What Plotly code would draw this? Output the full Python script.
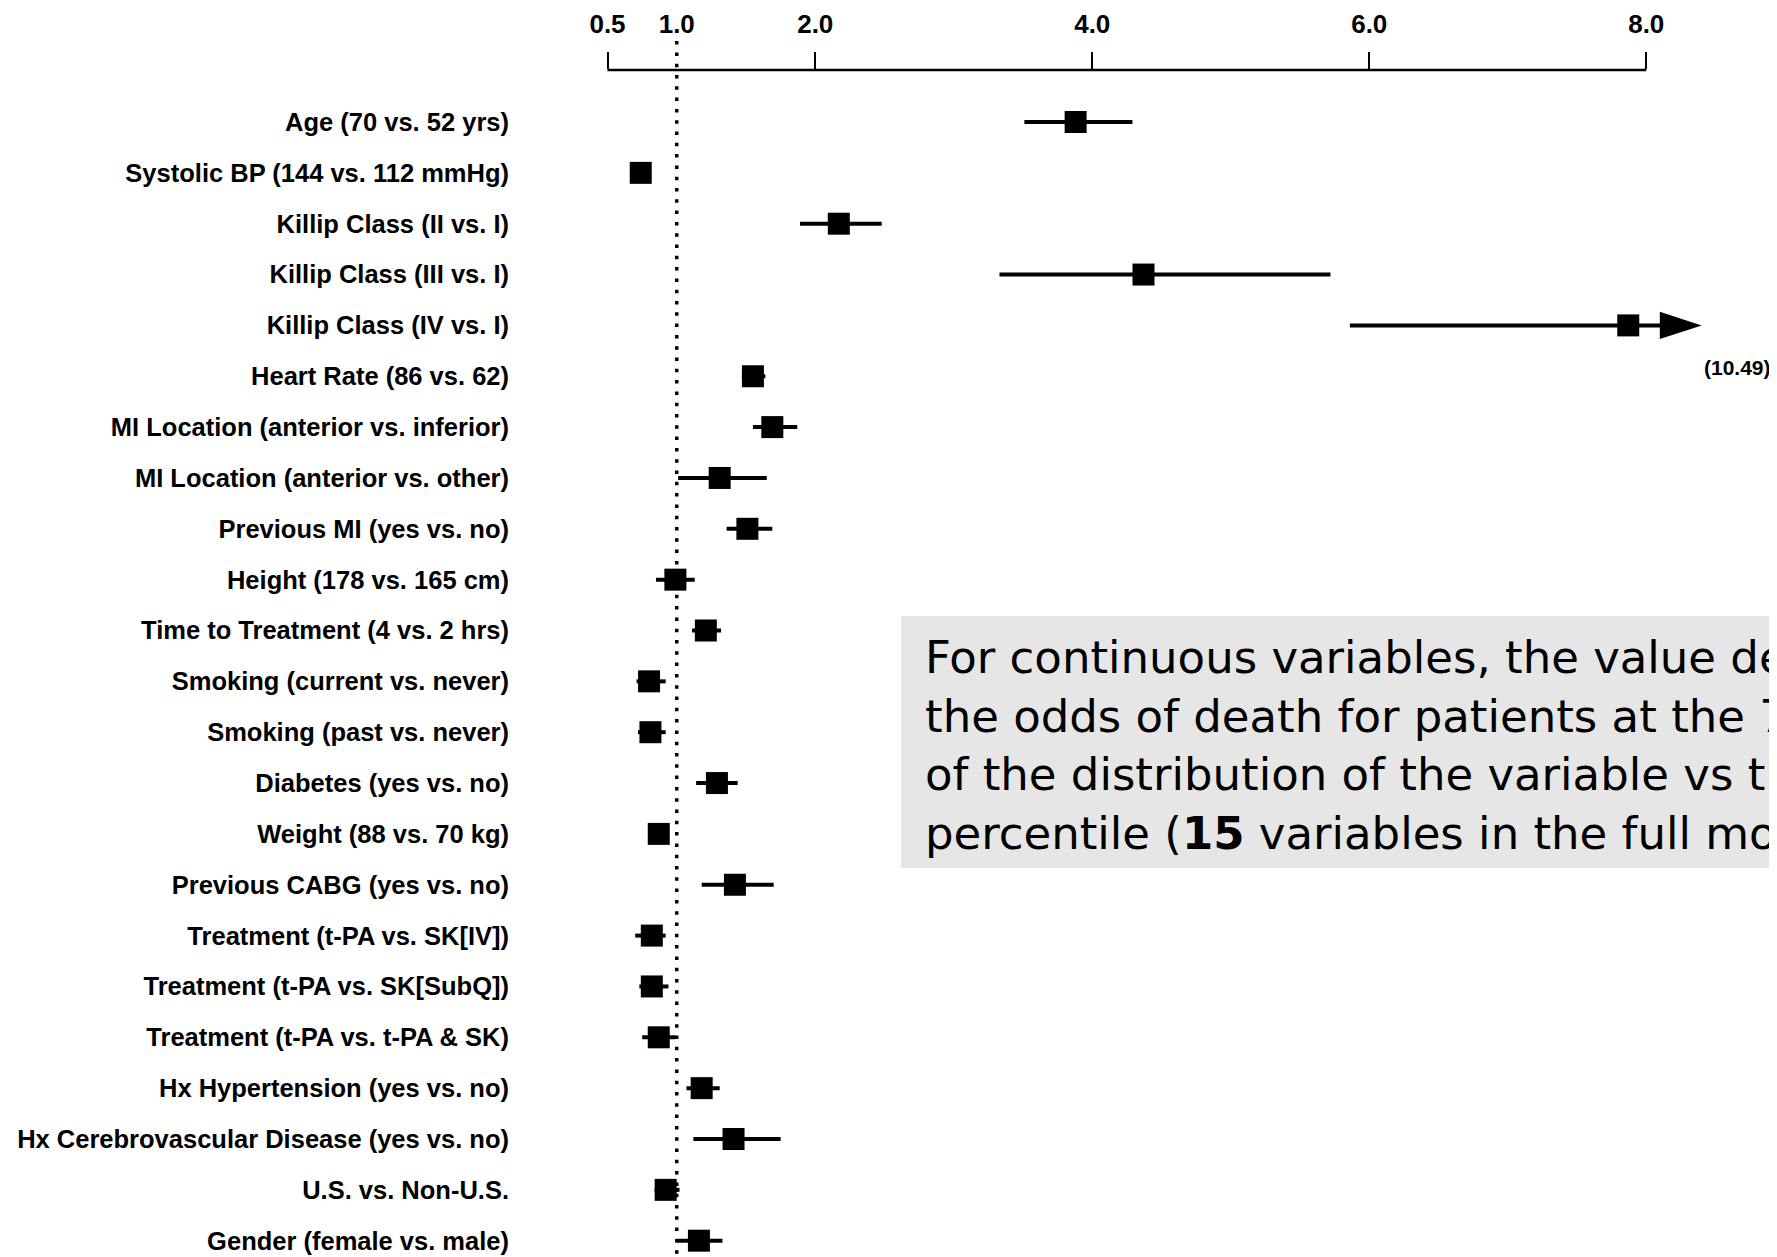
import plotly.graph_objects as go

# ---------------- data ----------------
LABELS = [
    "Age (70 vs. 52 yrs)",
    "Systolic BP (144 vs. 112 mmHg)",
    "Killip Class (II vs. I)",
    "Killip Class (III vs. I)",
    "Killip Class (IV vs. I)",
    "Heart Rate (86 vs. 62)",
    "MI Location (anterior vs. inferior)",
    "MI Location (anterior vs. other)",
    "Previous MI (yes vs. no)",
    "Height (178 vs. 165 cm)",
    "Time to Treatment (4 vs. 2 hrs)",
    "Smoking (current vs. never)",
    "Smoking (past vs. never)",
    "Diabetes (yes vs. no)",
    "Weight (88 vs. 70 kg)",
    "Previous CABG (yes vs. no)",
    "Treatment (t-PA vs. SK[IV])",
    "Treatment (t-PA vs. SK[SubQ])",
    "Treatment (t-PA vs. t-PA &amp; SK)",
    "Hx Hypertension (yes vs. no)",
    "Hx Cerebrovascular Disease (yes vs. no)",
    "U.S. vs. Non-U.S.",
    "Gender (female vs. male)",
]
ODDS_RATIO = [3.88, 0.74, 2.17, 4.37, 7.87, 1.55, 1.69, 1.31, 1.51, 0.99, 1.21, 0.80,
              0.81, 1.29, 0.87, 1.42, 0.82, 0.82, 0.87, 1.18, 1.41, 0.92, 1.16]
CI_LOW = [3.51, 0.71, 1.89, 3.33, 5.86, 1.47, 1.55, 1.01, 1.36, 0.85, 1.11, 0.71,
          0.72, 1.14, 0.82, 1.18, 0.70, 0.73, 0.75, 1.07, 1.12, 0.84, 1.00]
CI_HIGH = [4.29, 0.77, 2.48, 5.72, 10.49, 1.64, 1.87, 1.65, 1.69, 1.13, 1.32, 0.92,
           0.92, 1.44, 0.92, 1.70, 0.92, 0.94, 0.99, 1.31, 1.75, 1.02, 1.33]
TICK_VALUES = [0.5, 1.0, 2.0, 4.0, 6.0, 8.0]
TICK_LABELS = ["0.5", "1.0", "2.0", "4.0", "6.0", "8.0"]
TICK_MARKS = [0.5, 2.0, 4.0, 6.0, 8.0]
REFERENCE_LINE = 1.0
NOTE_LINES = [
    "For continuous variables, the value denotes",
    "the odds of death for patients at the 75th",
    "of the distribution of the variable vs the 25th",
    "percentile (<b>15</b> variables in the full model)",
]

# ---------------- geometry / style ----------------
W, H = 1777, 1257
OFF = 8  # page body margin: figure is drawn 8px right/down of the window corner
ML, MR, MT, MB = 600 - OFF, 0, 70 - OFF, 0
PX_PER_UNIT = 138.5
X_AT_05 = 607.5 - OFF
XMIN = 0.5 - (X_AT_05 - ML) / PX_PER_UNIT
XMAX = 0.5 + (W - MR - X_AT_05) / PX_PER_UNIT
AXIS_MAX = 8.0
ARROW_TIP = 8.40
ROW_PX = 50.85
FIRST_ROW_PX = 122 - OFF
n = len(LABELS)
rows = list(range(n))
plot_h = H - MT - MB
plot_w = W - ML - MR
YTOP = -(FIRST_ROW_PX - MT) / ROW_PX
YBOT = YTOP + plot_h / ROW_PX


def px_x(p):
    """reference-window pixel -> paper x"""
    return (p - OFF - ML) / plot_w


def px_y(p):
    """reference-window pixel -> paper y"""
    return (H - MB - (p - OFF)) / plot_h


FONT_BOLD = "Liberation Sans, Arial, Helvetica, sans-serif"

clip_hi = [min(h, ARROW_TIP - 0.2) for h in CI_HIGH]
plus = [h - o for h, o in zip(clip_hi, ODDS_RATIO)]
minus = [o - l for o, l in zip(ODDS_RATIO, CI_LOW)]

fig = go.Figure()
fig.add_trace(go.Scatter(
    x=ODDS_RATIO, y=rows, mode="markers",
    marker=dict(symbol="square", size=22, color="black"),
    error_x=dict(type="data", symmetric=False, array=plus, arrayminus=minus,
                 color="black", thickness=4, width=0),
    showlegend=False, hoverinfo="skip",
))

# arrows for intervals that run off the scale
off_rows = [r for r, h in zip(rows, CI_HIGH) if h > AXIS_MAX]
fig.add_trace(go.Scatter(
    x=[ARROW_TIP] * len(off_rows), y=off_rows, mode="markers",
    marker=dict(symbol="arrow", size=44, angle=90, color="black"),
    showlegend=False, hoverinfo="skip", cliponaxis=False,
))
for r in off_rows:
    fig.add_annotation(
        x=px_x(1773), xref="paper", xanchor="right",
        y=r + 0.82, yref="y", yanchor="middle",
        text=f"<b>({CI_HIGH[r]:.2f})</b>", showarrow=False,
        font=dict(family=FONT_BOLD, size=21, color="black"),
    )

# axis line along top
fig.add_shape(type="line", xref="x", yref="paper", x0=min(TICK_MARKS), x1=max(TICK_MARKS),
              y0=1, y1=1, line=dict(color="black", width=2.5))
# reference line at OR = 1
fig.add_shape(type="line", xref="x", yref="paper", x0=REFERENCE_LINE, x1=REFERENCE_LINE,
              y0=0, y1=px_y(38), line=dict(color="black", width=3.5, dash="3.5px,7.8px"))

# note box
fig.add_shape(type="rect", xref="paper", yref="paper", x0=px_x(901), x1=1.02,
              y0=px_y(868), y1=px_y(616), fillcolor="#e6e6e6", line=dict(width=0),
              layer="below")
fig.add_annotation(
    x=px_x(923), xref="paper", xanchor="left",
    y=px_y(745), yref="paper", yanchor="middle",
    text="<br>".join(NOTE_LINES), showarrow=False, align="left",
    font=dict(family="DejaVu Sans", size=45, color="black"),
)

fig.update_layout(
    width=W, height=H,
    margin=dict(l=ML, r=MR, t=MT, b=MB),
    paper_bgcolor="white", plot_bgcolor="white",
    xaxis=dict(
        range=[XMIN, XMAX], side="top", showgrid=False, zeroline=False, showline=False,
        tickvals=TICK_VALUES, ticktext=TICK_LABELS, ticks="",
        minor=dict(tickvals=TICK_MARKS, ticks="outside", ticklen=17, tickwidth=2,
                   tickcolor="black", showgrid=False),
        tickfont=dict(family=FONT_BOLD, size=26, color="black", weight="bold"),
        ticklabelstandoff=31,
    ),
    yaxis=dict(
        range=[YBOT, YTOP], showgrid=False, zeroline=False, showline=False,
        tickvals=rows, ticktext=LABELS, ticks="",
        tickfont=dict(family=FONT_BOLD, size=25.5, color="black", weight="bold"),
        ticklabelstandoff=90,
    ),
)

fig.write_html("out.html")
